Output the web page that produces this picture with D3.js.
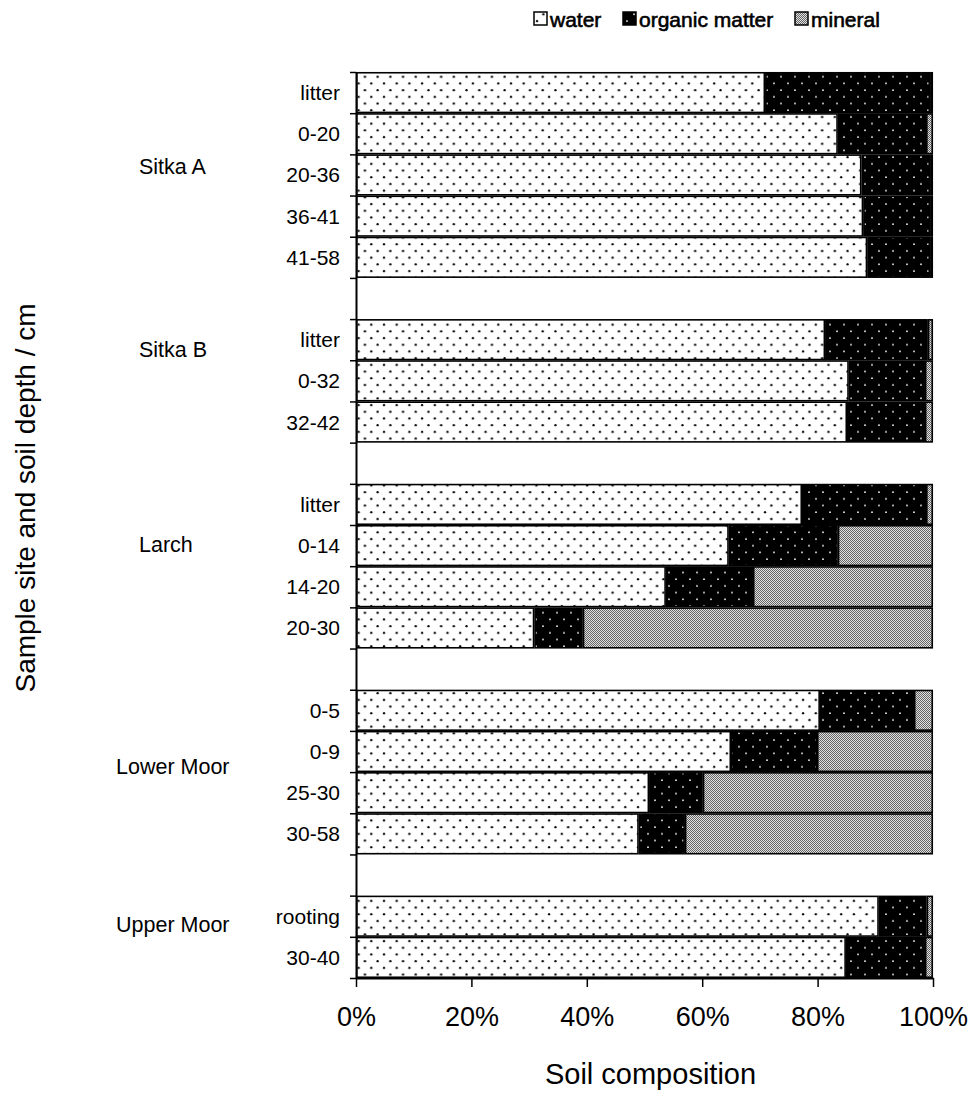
<!DOCTYPE html>
<html>
<head>
<meta charset="utf-8">
<script src="https://cdn.jsdelivr.net/npm/d3@7"></script>
<style>
  body { margin: 0; background: #fff; }
  text { font-family: "Liberation Sans", Arial, sans-serif; fill: #000; }
</style>
</head>
<body>
<div id="chart"></div>
<script>
// DATA
const groups = ["Sitka A", "Sitka B", "Larch", "Lower Moor", "Upper Moor"];
const depths = [
  ["litter", "0-20", "20-36", "36-41", "41-58"],
  ["litter", "0-32", "32-42"],
  ["litter", "0-14", "14-20", "20-30"],
  ["0-5", "0-9", "25-30", "30-58"],
  ["rooting", "30-40"]
];
// % of soil composition, per group then per depth
const water = [
  [70.9, 83.5, 87.6, 87.9, 88.6],
  [81.3, 85.4, 85.1],
  [77.3, 64.6, 53.7, 30.9],
  [80.4, 65.0, 50.8, 49.0],
  [90.6, 84.9]
];
const organic = [
  [28.6, 15.3, 11.9, 11.6, 10.9],
  [17.8, 13.2, 13.5],
  [21.5, 18.9, 15.1, 8.4],
  [16.3, 14.9, 9.3, 8.0],
  [8.3, 13.7]
];
const mineral = [
  [0.5, 1.2, 0.5, 0.5, 0.5],
  [0.9, 1.4, 1.4],
  [1.2, 16.5, 31.2, 60.7],
  [3.3, 20.1, 39.9, 43.0],
  [1.1, 1.4]
];
const keys = ["water", "organic", "mineral"];
const legendLabels = ["water", "organic matter", "mineral"];
const xTicks = [0, 20, 40, 60, 80, 100];

// LAYOUT
const width = 976;
const height = 1098;
const plot = { left: 356, right: 933, top: 72, bottom: 978 };
// where the group names sit (slot position from top, left edge)
const groupLabelPos = [
  { slot: 2.31, x: 139 },
  { slot: 6.75, x: 139 },
  { slot: 11.49, x: 139 },
  { slot: 16.88, x: 116 },
  { slot: 20.71, x: 116 }
];

// build rows, one empty slot between groups
const rows = [];
let slot = 0;
groups.forEach((g, gi) => {
  depths[gi].forEach((dep, di) => {
    rows.push({
      group: g,
      depth: dep,
      slot: slot,
      water: water[gi][di],
      organic: organic[gi][di],
      mineral: mineral[gi][di]
    });
    slot++;
  });
  if (gi < groups.length - 1) slot++;
});
const nSlots = slot;

const svg = d3
  .select("#chart")
  .append("svg")
  .attr("width", width)
  .attr("height", height);

// patterns
const defs = svg.append("defs");

const pWater = defs
  .append("pattern")
  .attr("id", "p-water")
  .attr("patternUnits", "userSpaceOnUse")
  .attr("width", 12.7)
  .attr("height", 13.4);
pWater.append("rect").attr("width", 12.7).attr("height", 13.4).attr("fill", "#fff");
pWater.append("circle").attr("cx", 3).attr("cy", 3).attr("r", 1.15).attr("fill", "#000");
pWater.append("circle").attr("cx", 9.35).attr("cy", 9.7).attr("r", 1.15).attr("fill", "#000");

const pOrg = defs
  .append("pattern")
  .attr("id", "p-organic")
  .attr("patternUnits", "userSpaceOnUse")
  .attr("width", 14)
  .attr("height", 13.4);
pOrg.append("rect").attr("width", 14).attr("height", 13.4).attr("fill", "#000");
pOrg.append("circle").attr("cx", 4).attr("cy", 3).attr("r", 0.9).attr("fill", "#fff");
pOrg.append("circle").attr("cx", 11).attr("cy", 9.7).attr("r", 0.9).attr("fill", "#fff");

const pMin = defs
  .append("pattern")
  .attr("id", "p-mineral")
  .attr("patternUnits", "userSpaceOnUse")
  .attr("width", 2)
  .attr("height", 2);
pMin.append("rect").attr("width", 2).attr("height", 2).attr("fill", "#e0e0e0");
pMin.append("rect").attr("width", 1).attr("height", 1).attr("fill", "#666");
pMin.append("rect").attr("x", 1).attr("y", 1).attr("width", 1).attr("height", 1).attr("fill", "#666");

const fills = { water: "url(#p-water)", organic: "url(#p-organic)", mineral: "url(#p-mineral)" };

// scales
const x = d3.scaleLinear().domain([0, 100]).range([plot.left, plot.right]);
const y = d3.scaleLinear().domain([0, nSlots]).range([plot.top, plot.bottom]);
const bandH = y(1) - y(0);

// bars
const series = d3.stack().keys(keys)(rows);

svg
  .append("g")
  .selectAll("g")
  .data(series)
  .join("g")
  .attr("fill", (s) => fills[s.key])
  .selectAll("rect")
  .data((s) => s)
  .join("rect")
  .attr("x", (d) => x(d[0]) + 0.75)
  .attr("y", (d) => y(d.data.slot) + 0.75)
  .attr("width", (d) => Math.max(0.5, x(d[1]) - x(d[0]) - 1.5))
  .attr("height", bandH - 1.5)
  .attr("stroke", "#000")
  .attr("stroke-width", 1.6);

// y axis (ticks between slots)
const yAxis = svg
  .append("g")
  .attr("transform", `translate(${plot.left},0)`)
  .call(
    d3.axisLeft(y)
      .tickValues(d3.range(nSlots + 1))
      .tickFormat("")
      .tickSize(6)
      .tickSizeOuter(0)
  );
yAxis.select(".domain").attr("stroke-width", 2);
yAxis.selectAll(".tick line").attr("stroke-width", 1.5);

// x axis
const xAxis = svg
  .append("g")
  .attr("transform", `translate(0,${plot.bottom})`)
  .call(
    d3.axisBottom(x)
      .tickValues(xTicks)
      .tickFormat((d) => d + "%")
      .tickSize(9)
      .tickSizeOuter(0)
      .tickPadding(20)
  );
xAxis.select(".domain").attr("stroke-width", 2);
xAxis.selectAll(".tick line").attr("stroke-width", 1.5);
xAxis.selectAll(".tick text").style("font-size", "27px").attr("fill", "#000");

// depth labels
svg
  .append("g")
  .selectAll("text")
  .data(rows)
  .join("text")
  .attr("x", plot.left - 16)
  .attr("y", (d) => y(d.slot + 0.5))
  .attr("text-anchor", "end")
  .attr("dominant-baseline", "central")
  .style("font-size", "21px")
  .text((d) => d.depth);

// group labels
svg
  .append("g")
  .selectAll("text")
  .data(groups)
  .join("text")
  .attr("x", (d, i) => groupLabelPos[i].x)
  .attr("y", (d, i) => y(groupLabelPos[i].slot))
  .attr("dominant-baseline", "central")
  .style("font-size", "21.5px")
  .text((d) => d);

// axis titles
svg
  .append("text")
  .attr("x", (plot.left + plot.right) / 2 + 6)
  .attr("y", 1074)
  .attr("text-anchor", "middle")
  .attr("dominant-baseline", "central")
  .style("font-size", "29px")
  .text("Soil composition");

svg
  .append("text")
  .attr("transform", "translate(25,498) rotate(-90)")
  .attr("text-anchor", "middle")
  .attr("dominant-baseline", "central")
  .style("font-size", "28px")
  .text("Sample site and soil depth / cm");

// legend
const legendX = [534, 623, 795];
const legend = svg
  .append("g")
  .selectAll("g")
  .data(keys)
  .join("g")
  .attr("transform", (d, i) => `translate(${legendX[i]},18)`);
legend
  .append("rect")
  .attr("x", 0)
  .attr("y", -6)
  .attr("width", 13)
  .attr("height", 13)
  .attr("fill", (d) => fills[d])
  .attr("stroke", "#000")
  .attr("stroke-width", 1.5);
legend
  .append("text")
  .attr("x", 16)
  .attr("y", 1)
  .attr("dominant-baseline", "central")
  .style("font-size", "21px")
  .style("stroke", "#000")
  .style("stroke-width", 0.6)
  .text((d, i) => legendLabels[i]);
</script>
</body>
</html>
